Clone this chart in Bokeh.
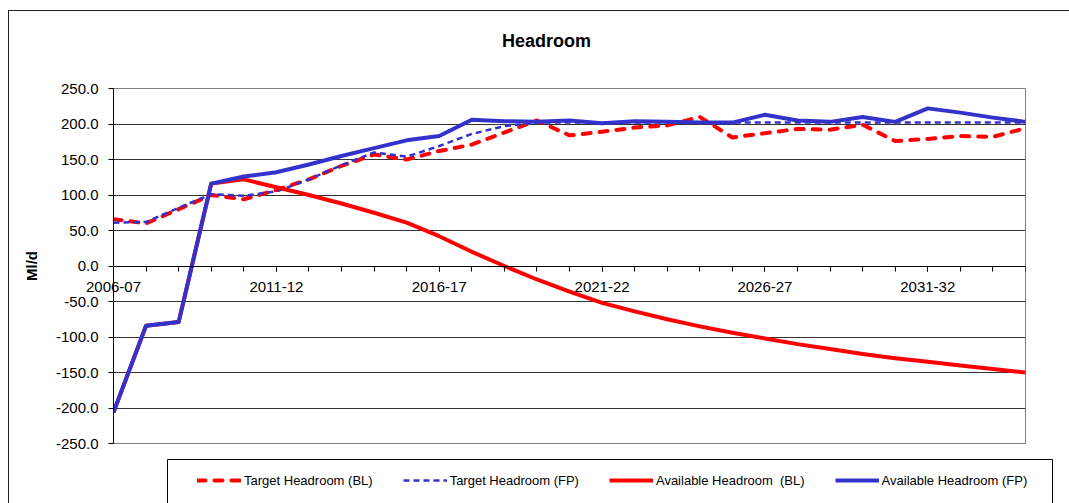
from bokeh.plotting import figure
from bokeh.layouts import column
from bokeh.models import (Range1d, FixedTicker, CustomJSTickFormatter, NumeralTickFormatter,
                          Legend, LegendItem, Label, BoxAnnotation, LinearAxis)
from bokeh.embed import file_html
from bokeh.resources import INLINE

# ---------------- data ----------------
categories = ["2006-07", "2007-08", "2008-09", "2009-10", "2010-11", "2011-12", "2012-13",
              "2013-14", "2014-15", "2015-16", "2016-17", "2017-18", "2018-19", "2019-20",
              "2020-21", "2021-22", "2022-23", "2023-24", "2024-25", "2025-26", "2026-27",
              "2027-28", "2028-29", "2029-30", "2030-31", "2031-32", "2032-33", "2033-34",
              "2034-35"]

target_bl = [66, 60, 80, 100, 94, 107, 122, 141, 157, 150, 162, 171, 188, 205, 184, 189,
             195, 198, 210, 181, 187, 193, 192, 199, 176, 179, 183, 182, 194]
target_fp = [61, 62, 82, 101, 99, 105, 122, 142, 160, 154, 169, 186, 197, 202, 202, 202,
             202, 202, 202, 202, 202, 202, 202, 202, 202, 202, 202, 202, 202]
avail_bl = [-206, -84, -79, 116, 122, 111, 100, 88, 75, 61, 42, 20, 0, -19, -36, -52,
            -64, -75, -85, -94, -102, -110, -117, -124, -130, -135, -140, -145, -150]
avail_fp = [-206, -84, -79, 116, 126, 132, 143, 155, 166, 177, 183, 206, 204, 203, 205, 201,
            204, 203, 202, 202, 213, 205, 203, 210, 203, 222, 216, 209, 203]

series_names = ["Target Headroom (BL)", "Target Headroom (FP)",
                "Available Headroom  (BL)", "Available Headroom (FP)"]
y_ticks = [-250, -200, -150, -100, -50, 0, 50, 100, 150, 200, 250]
x_label_every = 5
title_text = "Headroom"
y_label = "Ml/d"

# ---------------- styling ----------------
FONT = "Liberation Sans"
RED = "#FF0000"
BLUE = "#3333CC"
W = 1060
line_styles = [
    dict(line_color=RED, line_width=4, line_dash="8 9", line_cap="round", line_join="round"),
    dict(line_color=BLUE, line_width=2.5, line_dash="6 4", line_join="round"),
    dict(line_color=RED, line_width=4, line_join="round"),
    dict(line_color=BLUE, line_width=4, line_join="round"),
]


def no_align(f):
    if "frame_align" in f.properties():
        f.frame_align = False


def blank_fig(height, xr=(0, 1)):
    f = figure(width=W, height=height, output_backend="svg", toolbar_location=None,
               x_axis_type=None, y_axis_type=None, min_border=0,
               x_range=Range1d(*xr), y_range=Range1d(0, 1))
    f.title = None
    f.outline_line_color = None
    f.background_fill_color = "white"
    f.border_fill_color = "white"
    no_align(f)
    return f


# ---------------- title strip ----------------
t = blank_fig(49)
t.add_layout(Label(x=537, y=20, x_units="screen", y_units="screen", text=title_text,
                   text_align="center", text_baseline="middle", text_font=FONT,
                   text_font_style="bold", text_font_size="18px", text_color="black"))

# ---------------- main chart ----------------
xs = list(range(len(categories)))
series = [target_bl, target_fp, avail_bl, avail_fp]

p = figure(width=W, height=395, output_backend="svg", toolbar_location=None,
           x_axis_location="above",
           x_range=Range1d(0, len(categories) - 1), y_range=Range1d(y_ticks[0], y_ticks[-1]),
           min_border_left=104, min_border_right=44, min_border_top=28, min_border_bottom=12)
p.title = None
p.background_fill_color = "white"
p.border_fill_color = "white"
p.outline_line_color = "#808080"
p.outline_line_width = 1
no_align(p)

for ys, st in zip(series, line_styles):
    p.line(xs, ys, **st)

p.xgrid.visible = False
p.ygrid.ticker = FixedTicker(ticks=y_ticks[1:-1])
p.ygrid.grid_line_color = "#333333"
p.ygrid.grid_line_width = 1

ya = p.yaxis[0]
ya.ticker = FixedTicker(ticks=y_ticks)
ya.formatter = NumeralTickFormatter(format="0.0")
ya.major_tick_in = 0
ya.major_tick_out = 5
ya.minor_tick_in = 0
ya.minor_tick_out = 0
ya.major_label_standoff = 10
ya.major_label_text_font = FONT
ya.major_label_text_font_size = "15px"
ya.major_label_text_color = "black"
ya.axis_line_color = "black"
ya.major_tick_line_color = "black"
ya.axis_label = y_label
ya.axis_label_standoff = 13
ya.axis_label_text_font = FONT
ya.axis_label_text_font_style = "bold"
ya.axis_label_text_font_size = "15px"
ya.axis_label_text_color = "black"

# category axis line + ticks crossing at zero
xa = p.xaxis[0]
xa.fixed_location = 0
xa.ticker = FixedTicker(ticks=xs[::x_label_every], minor_ticks=xs)
xa.formatter = CustomJSTickFormatter(code="return '';")
xa.major_tick_in = 5
xa.major_tick_out = 0
xa.minor_tick_in = 5
xa.minor_tick_out = 0
xa.major_tick_line_color = "black"
xa.minor_tick_line_color = "black"
xa.axis_line_color = "black"
xa.major_label_standoff = 0

# category labels (drawn just under the zero line)
xl = LinearAxis(ticker=FixedTicker(ticks=xs[::x_label_every]),
                formatter=CustomJSTickFormatter(args=dict(labels=categories),
                                                code="return labels[Math.round(tick)];"))
xl.major_tick_in = 0
xl.major_tick_out = 0
xl.minor_tick_in = 0
xl.minor_tick_out = 0
xl.axis_line_alpha = 0
xl.major_label_standoff = -162
xl.major_label_text_font = FONT
xl.major_label_text_font_size = "15px"
xl.major_label_text_color = "black"
p.add_layout(xl, "below")

# ---------------- legend strip ----------------
lg = blank_fig(48, xr=(-2, -1))
leg_renderers = [lg.line(xs, ys, **st) for ys, st in zip(series, line_styles)]
lg.add_layout(BoxAnnotation(left=158, right=1043, top=44, bottom=-10,
                            left_units="screen", right_units="screen",
                            top_units="screen", bottom_units="screen",
                            fill_alpha=0, line_color="black", line_width=1, line_alpha=1))
legend = Legend(items=[LegendItem(label=n, renderers=[r])
                       for n, r in zip(series_names, leg_renderers)],
                orientation="horizontal", location=(188, 13), padding=0, margin=0,
                spacing=30, glyph_width=44, glyph_height=20, label_standoff=3,
                label_height=20,
                label_text_font=FONT, label_text_font_size="13px",
                label_text_color="black",
                border_line_alpha=0, background_fill_alpha=0)
lg.add_layout(legend, "center")

layout = column(t, p, lg, spacing=0)
layout.margin = (10, 0, 0, 8)
layout.styles = {"border-top": "1px solid #222222", "border-left": "1px solid #222222"}

open("out.html", "w").write(file_html(layout, INLINE))
